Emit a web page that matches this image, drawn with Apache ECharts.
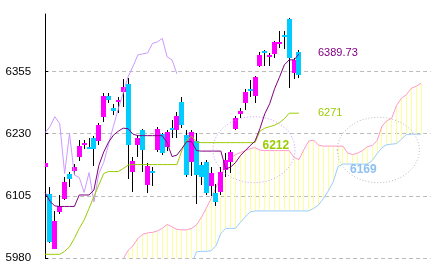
<!DOCTYPE html>
<html><head><meta charset="utf-8">
<script src="https://cdn.jsdelivr.net/npm/echarts@6/dist/echarts.min.js"></script>
<style>html,body{margin:0;padding:0;background:#fff}#c{width:431px;height:272px}</style>
</head><body><div id="c"></div>
<script>
// Candles, k = 0..52
const opens  = [6163,6109,5999,6071,6099,6150,6155,6184,6208,6204,6222,6216,6263,6305,6281,6292,6313,6330,6153,6207,6237,6128,6155,6197,6229,6204,6241,6236,6294,6227,6174,6215,6167,6173,6124,6110,6112,6157,6172,6240,6270,6290,6320,6306,6364,6396,6385,6388,6409,6427,6460,6351,6394];
const closes = [6172,6013,6055,6084,6134,6139,6164,6206,6212,6201,6200,6248,6306,6296,6275,6297,6323,6208,6175,6222,6196,6166,6153,6239,6190,6234,6239,6265,6248,6147,6234,6146,6142,6110,6151,6092,6153,6177,6193,6262,6276,6313,6316,6344,6387,6391,6388,6413,6413,6423,6382,6378,6348];
const highs  = [6178,6123,6075,6106,6144,6154,6169,6217,6217,6222,6225,6251,6311,6312,6289,6304,6340,6342,6184,6227,6240,6172,6163,6244,6232,6238,6257,6273,6304,6237,6237,6231,6174,6177,6164,6129,6164,6191,6197,6266,6282,6320,6338,6346,6393,6398,6391,6415,6435,6436,6461,6381,6397];
const lows   = [6158,6011,5998,6069,6097,6124,6147,6175,6199,6199,6165,6207,6253,6291,6267,6271,6283,6140,6112,6184,6154,6110,6125,6193,6188,6195,6221,6221,6241,6144,6146,6089,6127,6107,6104,6084,6107,6144,6151,6237,6262,6278,6303,6291,6363,6366,6365,6382,6401,6400,6321,6340,6341];

// Ichimoku lines
const tenkan = [6112,6094,6085,6084,6084,6084,6084,6107,6107,6107,6117,6166,6193,6213,6227,6235,6241,6240,6229,6226,6226,6226,6226,6226,6226,6212,6184,6187,6200,6214,6214,6196,6195,6195,6195,6195,6195,6159,6163,6172,6186,6196,6206,6215,6240,6270,6290,6320,6343,6368,6378,6378,6390];
const kijun  = [5988,5988,5988,5988,5994,6003,6020,6040,6057,6080,6104,6127,6150,6154,6154,6154,6160,6167,6168,6168,6168,6168,6168,6168,6168,6168,6168,6168,6196,6217,6225,6213,6212,6212,6212,6212,6212,6212,6212,6212,6212,6212,6212,6212,6235,6241,6244,6247,6252,6260,6271,6271,6271];
const chikou = [6232,6244,6264,6250,6150,6230,6147,6142,6112,6152,6093,6150,6172,6209,6245,6280,6312,6344,6365,6388,6390,6392,6411,6414,6421,6384,6378,6350];
const spanAStart = 12;
const spanA = [5925,5938,5950,5965,5979,5996,6005,6020,6028,6031,6032,6035,6040,6048,6043,6038,6037,6037,6040,6047,6062,6080,6100,6122,6145,6168,6180,6188,6192,6196,6200,6202,6197,6196,6196,6196,6196,6196,6196,6182,6178,6198,6215,6217,6207,6205,6205,6205,6205,6205,6191,6188,6191,6196,6204,6206,6216,6245,6256,6261,6287,6301,6308,6321,6325,6331];
const spanBStart = 14;
const spanB = [5880,5880,5885,5890,5895,5900,5905,5905,5905,5910,5915,5920,5925,5928,5930,5950,5968,5993,5994,5994,5995,6005,6030,6040,6040,6040,6052,6063,6073,6075,6075,6075,6075,6075,6075,6075,6075,6075,6075,6075,6075,6080,6087,6100,6115,6133,6164,6169,6169,6169,6169,6169,6169,6176,6190,6202,6208,6209,6210,6219,6228,6229,6229,6229];

const yTicks = [5980, 6105, 6230, 6355];
const notes = {tenkanLast: '6389.73', kijunLast: '6271', kijunFlat: '6212', spanBFlat: '6169'};

const chart = echarts.init(document.getElementById('c'), null, {renderer: 'canvas'});

const candleData = opens.map((o, i) => [i, o, closes[i], lows[i], highs[i]]);
const pairs = (arr, start) => arr.map((v, i) => [start + i, v]);
const hatchData = [];
for (let k = spanBStart; k < spanAStart + spanA.length; k++) {
  const a = spanA[k - spanAStart], b = spanB[k - spanBStart];
  if (a != null && b != null) hatchData.push([k, a, b]);
}

const lineS = (name, data, color, z) => ({
  name, type: 'line', data, showSymbol: false, symbol: 'none', silent: true, z,
  lineStyle: {color, width: 1}, animation: false
});

const FONT = '"Liberation Sans", sans-serif';

const option = {
  animation: false,
  grid: {left: 45.1, right: 0.2, top: 14, bottom: 13.7},
  xAxis: {type: 'value', min: 0, max: 79, show: false},
  yAxis: {
    type: 'value', min: 5980, max: 6470, interval: 125,
    axisLine: {show: true, lineStyle: {color: '#000', width: 1}},
    axisTick: {show: true, inside: true, length: 3, lineStyle: {color: '#000'}},
    axisLabel: {margin: 14, color: '#000', fontSize: 11.5, fontFamily: FONT,
      showMaxLabel: false, formatter: v => yTicks.includes(v) ? String(v) : ''},
    splitLine: {show: true, showMaxLine: false, lineStyle: {color: '#bbbbbb', type: [4, 3], width: 1}}
  },
  series: [
    {
      name: 'cloud', type: 'custom', data: hatchData, clip: true, silent: true, z: 1,
      renderItem: (params, api) => {
        const k = api.value(0);
        const pa = api.coord([k, api.value(1)]), pb = api.coord([k, api.value(2)]);
        const x = Math.floor(pa[0]) + 0.5;
        return {type: 'line', shape: {x1: x, y1: pa[1], x2: x, y2: pb[1]}, style: {stroke: '#ffff99', lineWidth: 1}};
      }
    },
    lineS('spanA', pairs(spanA, spanAStart), '#ff99cc', 2),
    lineS('spanB', pairs(spanB, spanBStart), '#99ccff', 2),
    {
      name: 'candles', type: 'custom', data: candleData, clip: true, silent: true, z: 3,
      renderItem: (params, api) => {
        const k = api.value(0), o = api.value(1), c = api.value(2), l = api.value(3), h = api.value(4);
        const pO = api.coord([k, o]), pC = api.coord([k, c]), pL = api.coord([k, l]), pH = api.coord([k, h]);
        const col = Math.floor(pO[0]);
        const top = Math.round(Math.min(pO[1], pC[1]));
        let hgt = Math.round(Math.abs(pO[1] - pC[1]));
        if (hgt < 2) hgt = 2;
        return {type: 'group', children: [
          {type: 'line', shape: {x1: col + 0.5, y1: Math.round(pH[1]), x2: col + 0.5, y2: Math.round(pL[1])}, style: {stroke: '#000', lineWidth: 1}},
          {type: 'rect', shape: {x: col - 2, y: top, width: 5, height: hgt}, style: {fill: c >= o ? '#ff00ff' : '#00ccff'}}
        ]};
      }
    },
    lineS('chikou', pairs(chikou, 0), '#cc99ff', 4),
    lineS('kijun', pairs(kijun, 0), '#99cc00', 5),
    lineS('tenkan', pairs(tenkan, 0), '#800080', 6)
  ],
  graphic: [
    {type: 'ellipse', z: 100, silent: true, shape: {cx: 254, cy: 149.7, rx: 41, ry: 33}, style: {fill: 'none', stroke: '#cc99ff', lineWidth: 1, lineDash: [1, 2]}},
    {type: 'ellipse', z: 100, silent: true, shape: {cx: 378.3, cy: 150, rx: 41, ry: 32.7}, style: {fill: 'none', stroke: '#bbbbbb', lineWidth: 1, lineDash: [1, 2]}},
    {type: 'text', z: 101, silent: true, x: 318, y: 52.5, style: {text: notes.tenkanLast, fill: '#800080', fontSize: 11, fontFamily: FONT, verticalAlign: 'middle', align: 'left'}},
    {type: 'text', z: 101, silent: true, x: 318, y: 112.5, style: {text: notes.kijunLast, fill: '#99cc00', fontSize: 11, fontFamily: FONT, verticalAlign: 'middle', align: 'left'}},
    {type: 'text', z: 101, silent: true, x: 262.5, y: 146, style: {text: notes.kijunFlat, fill: '#99cc00', fontSize: 12, fontWeight: 'bold', fontFamily: FONT, verticalAlign: 'middle', align: 'left'}},
    {type: 'text', z: 101, silent: true, x: 350, y: 169.3, style: {text: notes.spanBFlat, fill: '#8ec0f0', fontSize: 12, fontWeight: 'bold', fontFamily: FONT, verticalAlign: 'middle', align: 'left'}}
  ]
};
chart.setOption(option);
</script>
</body></html>
